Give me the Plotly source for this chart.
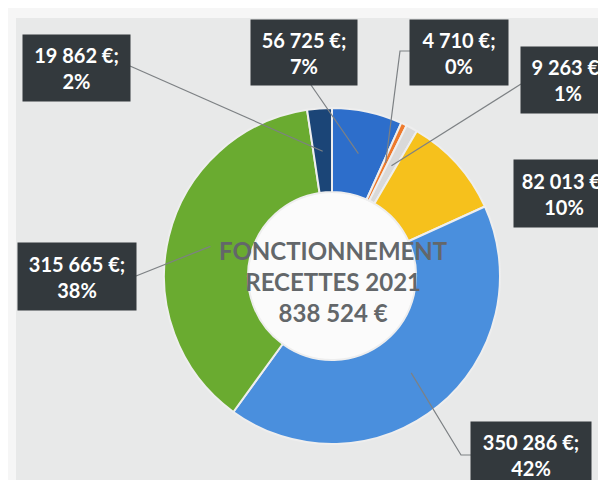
import math
import plotly.graph_objects as go

# ---- data ----
values = [56725, 4710, 9263, 82013, 350286, 315665, 19862]
percent_labels = ["7%", "0%", "1%", "10%", "42%", "38%", "2%"]
value_labels = ["56 725 €;", "4 710 €;", "9 263 €;", "82 013 €;", "350 286 €;", "315 665 €;", "19 862 €;"]
center_lines = ["FONCTIONNEMENT", "RECETTES 2021", "838 524 €"]

# ---- style / layout ----
colors = ["#2d6ecb", "#ee7a2c", "#d9d9d9", "#f6c11c", "#4a8fdd", "#6aab30", "#1b4577"]
W, H = 606, 480
CX, CY, R = 324, 268, 168
HOLE = 0.5

# label boxes: center (px), width, height ; leader path via optional elbow points
boxes = [
    dict(c=(296, 44), w=106, h=65, path=[(303, 77)]),
    dict(c=(451, 44), w=98, h=65, path=[(392, 43), (402, 43)]),
    dict(c=(560, 72), w=94, h=66, path=[(513, 76)]),
    dict(c=(556, 186), w=100, h=67, path=None),
    dict(c=(523, 447), w=120, h=66, path=[(453, 447), (463, 447)]),
    dict(c=(69, 268), w=118, h=67, path=[(128, 268)]),
    dict(c=(68, 60), w=107, h=66, path=[(122, 58)]),
]

def px(x):
    return x / W

def py(y):
    return 1 - y / H

fig = go.Figure()
fig.add_trace(go.Pie(
    values=values,
    sort=False,
    direction="clockwise",
    rotation=0,
    hole=HOLE,
    textinfo="none",
    hoverinfo="none",
    marker=dict(colors=colors, line=dict(color="#eeeeee", width=2)),
    domain=dict(x=[px(CX - R), px(CX + R)], y=[py(CY + R), py(CY - R)]),
    showlegend=False,
))

total = sum(values)
shapes = [
    # scanned panel background
    dict(type="rect", xref="paper", yref="paper", layer="below",
         x0=px(8), x1=px(W + 2), y0=py(H + 2), y1=py(10),
         fillcolor="#e8e9e9", line=dict(width=0)),
    # white hole
    dict(type="circle", xref="paper", yref="paper", layer="below",
         x0=px(CX - R * HOLE), x1=px(CX + R * HOLE),
         y0=py(CY + R * HOLE), y1=py(CY - R * HOLE),
         fillcolor="#fbfbfb", line=dict(width=0)),
]
annotations = []
cum = 0
for i, v in enumerate(values):
    mid = (cum + v / 2) / total
    cum += v
    ang = 2 * math.pi * mid
    r = 0.745 * R
    ax = CX + r * math.sin(ang)
    ay = CY - r * math.cos(ang)
    b = boxes[i]
    if b["path"]:
        pts = [(ax, ay)] + b["path"]
        d = "M " + " L ".join(f"{px(x)},{py(y)}" for x, y in pts)
        shapes.append(dict(type="path", path=d, xref="paper", yref="paper",
                           line=dict(color="#7d8184", width=1.2)))
    annotations.append(dict(
        x=px(b["c"][0]), y=py(b["c"][1]), xref="paper", yref="paper",
        text=f"{value_labels[i]}<br>{percent_labels[i]}",
        showarrow=False, xanchor="center", yanchor="middle",
        width=b["w"] - 8, height=b["h"] - 8, borderpad=4,
        bgcolor="#33393d", align="center", valign="middle",
        font=dict(family="Lato", size=20, color="#ffffff", weight="bold"),
    ))

annotations.append(dict(
    x=px(CX + 1), y=py(273), xref="paper", yref="paper",
    text="<br>".join(center_lines), showarrow=False,
    xanchor="center", yanchor="middle", align="center",
    font=dict(family="Lato", size=24, color="#63676a", weight="bold"),
))

fig.update_layout(
    width=W, height=H,
    margin=dict(l=0, r=0, t=0, b=0),
    paper_bgcolor="#f6f6f6",
    plot_bgcolor="#e9eaea",
    shapes=shapes,
    annotations=annotations,
)

fig.write_html("out.html")
